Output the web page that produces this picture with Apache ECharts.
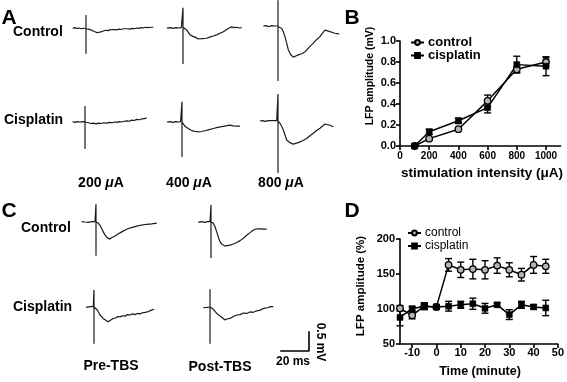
<!DOCTYPE html>
<html>
<head>
<meta charset="utf-8">
<script src="https://cdn.jsdelivr.net/npm/echarts@6/dist/echarts.min.js"></script>
<style>
  html, body { margin: 0; padding: 0; background: #fff; }
  #chart { width: 567px; height: 382px; }
</style>
</head>
<body>
<div id="chart"></div>
<script>
// ---- panel B: input-output curve ----
const intensity = [100, 200, 400, 600, 800, 1000]
const ioControl = [0.0, 0.07, 0.16, 0.43, 0.73, 0.80]
const ioControlErr = [0.0, 0.01, 0.01, 0.055, 0.03, 0.04]
const ioCisplatin = [0.0, 0.135, 0.24, 0.365, 0.775, 0.76]
const ioCisplatinErr = [0.0, 0.025, 0.025, 0.05, 0.08, 0.09]
const intensityTicks = [0, 200, 400, 600, 800, 1000]

// ---- panel D: LTP time course ----
const timeMin = [-15, -10, -5, 0, 5, 10, 15, 20, 25, 30, 35, 40, 45]
const ltpControl = [101, 91, 104, 103, 163, 156, 157, 156, 162, 156, 149, 163, 161]
const ltpControlErr = [4, 5, 4, 3, 9, 11, 14, 13, 11, 10, 9, 12, 10]
const ltpCisplatin = [88, 100.5, 104, 103, 104, 106, 107.5, 101, 106, 92, 106, 103, 101.5]
const ltpCisplatinErr = [12, 3, 5, 3, 7, 5, 8, 7, 3, 7, 5, 3, 11]
const timeTicks = [-10, 0, 10, 20, 30, 40, 50]

// ---- example traces, [ms, mV] ----
const ctrl200 = [[-9.5,-0.01],[-8,0.01],[-6.5,-0.01],[-5,0],[-3.5,-0.02],[-1.9,-0.01],[0,0],[0,0.34],[0,-0.68],[0,-0.02],[1.6,-0.03],[3.5,-0.05],[5.2,-0.08],[6.5,-0.1],[7.6,-0.12],[9,-0.1],[10,-0.11],[11.2,-0.08],[12.4,-0.08],[14,-0.06],[15.5,-0.07],[17.1,-0.05],[18.5,-0.06],[20,-0.04],[21.9,-0.05],[23.5,-0.03],[25,-0.04],[26.6,-0.02],[28,-0.04],[29.7,-0.02],[31.4,-0.03],[33,-0.01],[34.6,-0.02],[36.2,0],[37.8,-0.01],[39.3,0.01],[40.9,0],[42.5,0.02],[44.5,0.01],[46.3,0.02],[48.1,0.02]]
const ctrl400 = [[-11.6,0],[-9,0.01],[-7,-0.01],[-5,0.01],[-3,0],[-1.2,0.01],[0,0],[0,0.53],[0,-0.95],[0,0.02],[1.2,0.02],[2.6,-0.05],[5,-0.18],[7,-0.22],[8.6,-0.24],[10.9,-0.29],[13.5,-0.28],[16.9,-0.27],[19,-0.24],[21.6,-0.21],[24,-0.18],[26.4,-0.14],[28.8,-0.1],[31.2,-0.04],[33,0],[34.8,0.03],[36.5,0.01],[38.4,0.02],[40,0],[41.9,0.01]]
const ctrl800 = [[-10.5,0],[-8.5,0.01],[-6.9,-0.02],[-4.5,0.01],[-2.1,0],[0,0],[0,0.68],[0,-1.45],[0,-0.02],[1.2,-0.03],[2.6,-0.06],[3.8,-0.15],[5,-0.28],[6.2,-0.45],[7.4,-0.63],[9,-0.75],[10.9,-0.82],[12.7,-0.79],[14.5,-0.76],[17,-0.73],[19.3,-0.68],[22,-0.57],[25.2,-0.45],[27.5,-0.36],[30,-0.28],[31.8,-0.19],[33.6,-0.11],[35.5,-0.13],[37.1,-0.15],[39,-0.17],[40.7,-0.19],[42.5,-0.2],[43.8,-0.21]]
const cis200 = [[-8.8,0.01],[-7.2,-0.01],[-5.5,0.01],[-3.6,0],[-1.8,0.01],[0,0],[0,0.42],[0,-0.71],[0,0],[1,0.01],[2.4,-0.02],[4.2,-0.04],[6,-0.03],[7.8,-0.05],[9.5,-0.03],[11.5,-0.04],[13.5,-0.02],[15.5,-0.03],[17.5,-0.01],[19.5,-0.02],[21,0],[22.6,-0.01],[24.4,0.01],[26.2,0],[28,0.02],[29.8,0.03],[31.6,0.02],[33.4,0.05],[35.2,0.04],[36.9,0.07],[38.7,0.06],[40.5,0.08],[42.3,0.09],[44.1,0.1]]
const cis400 = [[-10.7,0],[-8.5,0.01],[-6.5,-0.01],[-4.5,0.01],[-2.5,0],[-1,0.01],[0,0],[0,0.53],[0,-0.92],[0,0],[1,0.01],[2.1,-0.11],[3.3,-0.13],[4.5,-0.17],[6.2,-0.21],[8.1,-0.24],[10,-0.25],[11.6,-0.26],[14,-0.25],[16.4,-0.23],[19.4,-0.2],[22.4,-0.17],[25.4,-0.14],[28.4,-0.12],[31.4,-0.1],[34.3,-0.08],[36.7,-0.1],[39.1,-0.11],[41.4,-0.11]]
const cis800 = [[-12.9,0],[-11,0.01],[-9,-0.01],[-7,0.01],[-5.7,0],[-3.5,0.01],[-0.9,0.01],[0,0],[0,0.71],[0,-1.37],[0,0],[1.4,-0.06],[2.6,-0.14],[3.8,-0.24],[5,-0.37],[6.2,-0.5],[7.4,-0.55],[8.6,-0.57],[10.9,-0.61],[12.7,-0.59],[14.5,-0.57],[17.5,-0.52],[20.5,-0.46],[22.8,-0.39],[25.2,-0.32],[27.6,-0.25],[30,-0.19],[31.8,-0.13],[33.6,-0.08],[35.4,-0.1],[37.1,-0.11],[38.5,-0.13],[39.5,-0.15]]
const preCtrl = [[-10.2,0.01],[-8,0],[-5.5,-0.01],[-3,0.01],[-0.7,0.01],[0,0],[0,0.47],[0,-0.89],[0,0],[1.6,-0.03],[2.8,-0.09],[4.1,-0.17],[5.2,-0.26],[6.4,-0.34],[8,-0.41],[9.5,-0.45],[11.5,-0.41],[13.6,-0.37],[16,-0.31],[18.4,-0.26],[20.8,-0.21],[23.1,-0.17],[26,-0.14],[29.1,-0.11],[32.6,-0.08],[36.2,-0.06],[39.8,-0.05],[43.4,-0.03]]
const preCis = [[-5.7,-0.01],[-4.3,0.02],[-2.9,0.01],[-1.5,0.03],[-0.5,0.01],[0,0],[0,0.45],[0,-0.97],[0,0],[1.2,-0.02],[2.4,-0.08],[3.3,-0.14],[4.3,-0.21],[5.5,-0.26],[6.6,-0.3],[8.4,-0.35],[10.2,-0.39],[12,-0.34],[13.8,-0.3],[15.5,-0.29],[17,-0.25],[18.6,-0.26],[20.4,-0.23],[22.2,-0.24],[24,-0.2],[25.7,-0.21],[27.5,-0.18],[29.3,-0.2],[31,-0.17],[32.9,-0.18],[34.7,-0.15],[36.5,-0.14],[38.8,-0.12],[40.8,-0.09],[42.9,-0.06]]
const postCtrl = [[-9.1,-0.01],[-7,0.01],[-4.3,-0.01],[-2.5,0.01],[-0.7,0.01],[0,0],[0,0.45],[0,-0.95],[0,0],[1.6,-0.03],[2.8,-0.12],[4.1,-0.26],[5.2,-0.39],[6.4,-0.52],[8,-0.59],[10,-0.63],[11.8,-0.62],[13.6,-0.61],[16,-0.58],[18.4,-0.54],[20.8,-0.49],[23.1,-0.43],[25.5,-0.35],[27.9,-0.28],[29.6,-0.23],[31.4,-0.19],[33.2,-0.18],[35,-0.18],[37.4,-0.19],[39.8,-0.19]]
const postCis = [[-4.8,-0.02],[-3.5,0.01],[-2.3,-0.01],[-1.2,-0.01],[0,0],[0,0.47],[0,-0.97],[0,0],[1.2,-0.02],[2.4,-0.06],[3.6,-0.11],[4.8,-0.17],[6.6,-0.22],[8.4,-0.27],[10.7,-0.34],[12.5,-0.31],[14.3,-0.3],[16.7,-0.25],[19.1,-0.21],[21.5,-0.2],[23.8,-0.16],[26.2,-0.17],[28.6,-0.13],[31,-0.14],[33.4,-0.1],[35.4,-0.09],[37.4,-0.05],[39.3,-0.03],[41.3,-0.02],[43.2,0.01],[45.2,0.01]]
const scaleBar = [[0, 0], [20, 0], [20, 0.5]]

const FONT = 'Liberation Sans, Arial, sans-serif'
const PX_MS = 1.4
const PX_MV = 38
const T_MIN = -14, T_MAX = 50, V_MIN = -1.5, V_MAX = 0.5

// where each trace's stimulus (t=0) and baseline (0 mV) sit on the page
const traces = [
  { data: ctrl200, at: [86, 28] },
  { data: ctrl400, at: [183, 28] },
  { data: ctrl800, at: [278, 26] },
  { data: cis200, at: [85, 122] },
  { data: cis400, at: [182, 122] },
  { data: cis800, at: [278, 121] },
  { data: preCtrl, at: [96, 222] },
  { data: postCtrl, at: [211, 222] },
  { data: preCis, at: [94, 307] },
  { data: postCis, at: [210, 307] }
]

const chart = echarts.init(document.getElementById('chart'))

const axisCommon = {
  axisLine: { onZero: false, lineStyle: { color: '#000', width: 1.6 } },
  axisTick: { length: 4, lineStyle: { color: '#000', width: 1.6 } },
  splitLine: { show: false }
}

const grids = [
  { left: 400, top: 41, width: 160.6, height: 105 },
  { left: 400, top: 239, width: 158.3, height: 105 }
]
const xAxes = [
  {
    gridIndex: 0, type: 'value', min: 0, max: 1100, ...axisCommon,
    axisTick: { ...axisCommon.axisTick, customValues: intensityTicks },
    axisLabel: { customValues: intensityTicks, color: '#000', fontFamily: FONT, fontWeight: 'bold', fontSize: 10, margin: 5, formatter: v => String(v) }
  },
  {
    gridIndex: 1, type: 'value', min: -15, max: 50, ...axisCommon,
    axisTick: { ...axisCommon.axisTick, customValues: timeTicks },
    axisLabel: { customValues: timeTicks, color: '#000', fontFamily: FONT, fontWeight: 'bold', fontSize: 11, margin: 3, formatter: v => String(v) }
  }
]
const yAxes = [
  {
    gridIndex: 0, type: 'value', min: 0, max: 1, interval: 0.2, ...axisCommon,
    axisLabel: { color: '#000', fontFamily: FONT, fontWeight: 'bold', fontSize: 11, margin: 4, formatter: v => v.toFixed(1) }
  },
  {
    gridIndex: 1, type: 'value', min: 50, max: 200, interval: 50, ...axisCommon,
    axisLabel: { color: '#000', fontFamily: FONT, fontWeight: 'bold', fontSize: 11, margin: 5 }
  }
]

const hiddenAxis = { show: false, splitLine: { show: false } }
const addTraceGrid = (x0, y0, tMin, tMax, vMin, vMax) => {
  grids.push({
    left: x0 + tMin * PX_MS,
    top: y0 - vMax * PX_MV,
    width: (tMax - tMin) * PX_MS,
    height: (vMax - vMin) * PX_MV
  })
  const idx = grids.length - 1
  xAxes.push({ gridIndex: idx, type: 'value', min: tMin, max: tMax, ...hiddenAxis })
  yAxes.push({ gridIndex: idx, type: 'value', min: vMin, max: vMax, ...hiddenAxis })
  return idx
}

const series = []

const errorBars = (axisIdx, xs, vals, errs) => ({
  type: 'custom',
  xAxisIndex: axisIdx,
  yAxisIndex: axisIdx,
  z: 1,
  silent: true,
  data: xs.map((x, i) => [x, vals[i] - errs[i], vals[i] + errs[i]]),
  renderItem: (params, api) => {
    const lo = api.coord([api.value(0), api.value(1)])
    const hi = api.coord([api.value(0), api.value(2)])
    const w = 3.5
    const st = { stroke: '#000', lineWidth: 1.4 }
    return {
      type: 'group',
      children: [
        { type: 'line', shape: { x1: lo[0], y1: lo[1], x2: hi[0], y2: hi[1] }, style: st },
        { type: 'line', shape: { x1: lo[0] - w, y1: lo[1], x2: lo[0] + w, y2: lo[1] }, style: st },
        { type: 'line', shape: { x1: hi[0] - w, y1: hi[1], x2: hi[0] + w, y2: hi[1] }, style: st }
      ]
    }
  }
})

const meanLine = (axisIdx, name, xs, vals, symbol) => ({
  name,
  type: 'line',
  xAxisIndex: axisIdx,
  yAxisIndex: axisIdx,
  z: 3,
  data: xs.map((x, i) => [x, vals[i]]),
  symbol,
  symbolSize: symbol === 'circle' ? 6.5 : 6,
  showAllSymbol: true,
  lineStyle: { color: '#000', width: 1.5 },
  itemStyle: symbol === 'circle'
    ? { color: '#b5b5b5', borderColor: '#000', borderWidth: 1.3 }
    : { color: '#000', borderColor: '#000', borderWidth: 0.5 }
})

series.push(errorBars(0, intensity, ioControl, ioControlErr))
series.push(errorBars(0, intensity, ioCisplatin, ioCisplatinErr))
series.push(meanLine(0, 'control', intensity, ioControl, 'circle'))
series.push(meanLine(0, 'cisplatin', intensity, ioCisplatin, 'rect'))

series.push(errorBars(1, timeMin, ltpControl, ltpControlErr))
series.push(errorBars(1, timeMin, ltpCisplatin, ltpCisplatinErr))
series.push(meanLine(1, 'control', timeMin, ltpControl, 'circle'))
series.push(meanLine(1, 'cisplatin', timeMin, ltpCisplatin, 'rect'))

traces.forEach(tr => {
  const idx = addTraceGrid(tr.at[0], tr.at[1], T_MIN, T_MAX, V_MIN, V_MAX)
  series.push({
    type: 'line',
    xAxisIndex: idx,
    yAxisIndex: idx,
    data: tr.data,
    symbol: 'none',
    clip: false,
    silent: true,
    lineStyle: { color: '#1a1a1a', width: 1.2 }
  })
})

// scale bar: 20 ms / 0.5 mV
const sbIdx = addTraceGrid(281, 351, 0, 20, 0, 0.5)
series.push({
  type: 'line',
  xAxisIndex: sbIdx,
  yAxisIndex: sbIdx,
  data: scaleBar,
  symbol: 'none',
  clip: false,
  silent: true,
  lineStyle: { color: '#000', width: 1.6, cap: 'square' }
})

const txt = (text, x, y, size, weight, extra) => ({
  type: 'text',
  x, y,
  style: Object.assign({
    text,
    fill: '#000',
    font: `${weight} ${size}px ${FONT}`,
    textAlign: 'center',
    textVerticalAlign: 'middle'
  }, extra || {})
})
const uA = (label, x, y) => ({
  type: 'text',
  x, y,
  style: {
    text: `{b|${label} }{i|μ}{b|A}`,
    textAlign: 'center',
    textVerticalAlign: 'middle',
    rich: {
      b: { fill: '#000', fontFamily: FONT, fontWeight: 'bold', fontSize: 14 },
      i: { fill: '#000', fontFamily: FONT, fontWeight: 'bold', fontStyle: 'italic', fontSize: 14 }
    }
  }
})

const upright = g => Object.assign(g, { rotation: Math.PI / 2 })
const downward = g => Object.assign(g, { rotation: -Math.PI / 2 })

const option = {
  backgroundColor: '#fff',
  animation: false,
  grid: grids,
  xAxis: xAxes,
  yAxis: yAxes,
  legend: [
    {
      data: ['control', 'cisplatin'],
      orient: 'vertical',
      left: 405, top: 31,
      itemWidth: 13, itemHeight: 6, itemGap: 0,
      selectedMode: false,
      textStyle: { color: '#000', fontFamily: FONT, fontWeight: 'bold', fontSize: 13, padding: [0, 0, 0, -1] }
    },
    {
      data: ['control', 'cisplatin'],
      orient: 'vertical',
      left: 402, top: 222,
      itemWidth: 13, itemHeight: 6, itemGap: 1,
      selectedMode: false,
      textStyle: { color: '#000', fontFamily: FONT, fontSize: 12, padding: [0, 0, 0, -1] }
    }
  ],
  graphic: [
    txt('A', 9, 18, 21, 'bold'),
    txt('B', 352, 18, 21, 'bold'),
    txt('C', 9, 211, 21, 'bold'),
    txt('D', 352, 211, 21, 'bold'),
    txt('Control', 13, 32, 14, 'bold', { textAlign: 'left' }),
    txt('Cisplatin', 4, 120, 14, 'bold', { textAlign: 'left' }),
    txt('Control', 21, 228, 14, 'bold', { textAlign: 'left' }),
    txt('Cisplatin', 13, 307, 14, 'bold', { textAlign: 'left' }),
    uA('200', 101, 183),
    uA('400', 189, 183),
    uA('800', 281, 183),
    txt('Pre-TBS', 111, 366, 14, 'bold'),
    txt('Post-TBS', 220, 367, 14, 'bold'),
    txt('20 ms', 293, 362, 12, 'bold'),
    downward(txt('0.5 mV', 320, 342, 12, 'bold')),
    upright(txt('LFP amplitude (mV)', 370, 76, 10.5, 'bold')),
    txt('stimulation intensity (μA)', 482, 173, 13.5, 'bold'),
    upright(txt('LFP amplitude (%)', 361, 286, 11.5, 'bold')),
    txt('Time (minute)', 480, 372, 12.5, 'bold')
  ],
  series
}

chart.setOption(option)
</script>
</body>
</html>
